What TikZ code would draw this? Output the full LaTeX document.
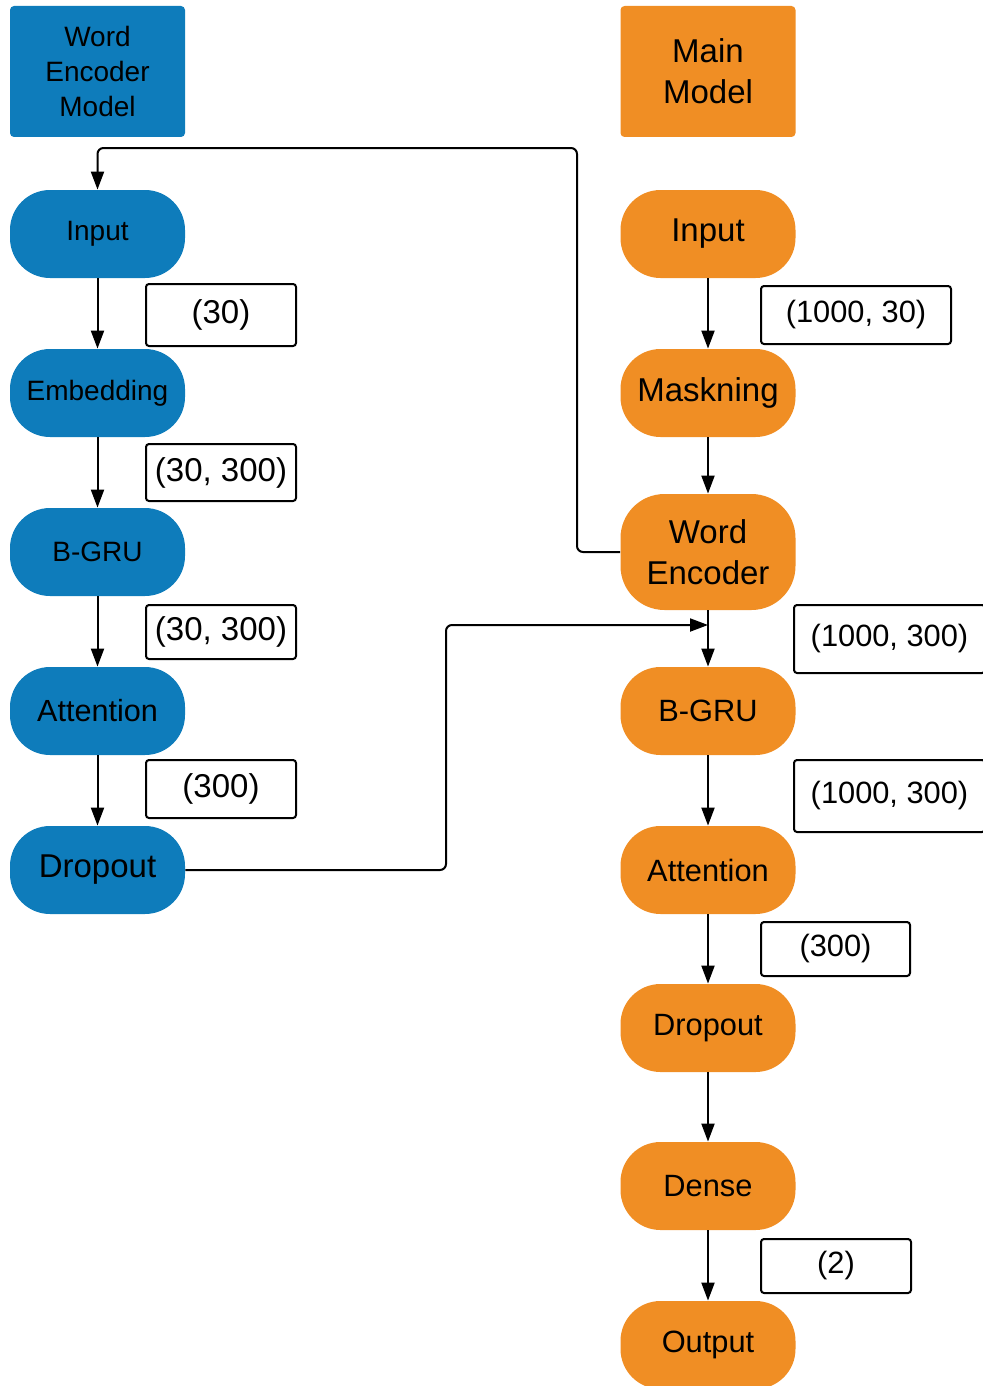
\documentclass[tikz,border=0pt]{standalone}
\usepackage{fontspec}
\setmainfont{Liberation Sans}
\usetikzlibrary{arrows.meta}

\definecolor{encblue}{RGB}{14,124,187}
\definecolor{mainorange}{RGB}{240,142,36}

\tikzset{
  head/.style={rounded corners=2pt, minimum width=87.5pt, minimum height=65.5pt,
    inner sep=0pt, align=center},
  pill/.style={rounded corners=20pt, minimum width=87.5pt, minimum height=44pt,
    inner sep=0pt, align=center},
  enc/.style={fill=encblue},
  mainm/.style={fill=mainorange},
  dimbox/.style={draw, line width=1pt, rounded corners=1.5pt, inner sep=0pt,
    fill=white},
  link/.style={line width=1pt, -{Triangle[length=9pt,width=6.5pt]}},
  fa/.style={font=\fontsize{14}{17.5}\selectfont},
  fb/.style={font=\fontsize{15.4}{20.5}\selectfont},
  fc/.style={font=\fontsize{16.5}{20.5}\selectfont},
}

\begin{document}
\begin{tikzpicture}[x=0.5pt,y=-0.5pt]
\useasboundingbox (0,0) rectangle (982,1386);

% word encoder model
\node[head, enc, fa] (lHead) at (97.5,71.5) {Word\\Encoder\\Model};
\node[pill, enc, fa] (lIn) at (97.5,234) {Input};
\node[pill, enc, fa] (lEmb) at (97.5,393) {Embedding};
\node[pill, enc, fa] (lGru) at (97.5,552) {B-GRU};
\node[pill, enc, font=\fontsize{15.3}{18}\selectfont] (lAtt) at (97.5,711) {Attention};
\node[pill, enc, fc] (lDrop) at (97.5,870) {Dropout};

\node[dimbox, fc, minimum width=75pt, minimum height=31pt] (lDim1) at (221,315) {(30)};
\node[dimbox, fc, minimum width=75pt, minimum height=28.5pt] (lDim2) at (221,472.5) {(30, 300)};
\node[dimbox, fc, minimum width=75pt, minimum height=27pt] (lDim3) at (221,632) {(30, 300)};
\node[dimbox, fc, minimum width=75pt, minimum height=29pt] (lDim4) at (221,789) {(300)};

\draw[link] (lIn) -- (lEmb);
\draw[link] (lEmb) -- (lGru);
\draw[link] (lGru) -- (lAtt);
\draw[link] (lAtt) -- (lDrop);

% main model
\node[head, mainm, fc] (rHead) at (708,71.5) {Main\\Model};
\node[pill, mainm, fc] (rIn) at (708,234) {Input};
\node[pill, mainm, fc] (rMask) at (708,393) {Maskning};
\node[pill, mainm, fc, minimum height=58pt, rounded corners=22pt] (rEnc) at (708,552) {Word\\Encoder};
\node[pill, mainm, fb] (rGru) at (708,711) {B-GRU};
\node[pill, mainm, fb] (rAtt) at (708,870) {Attention};
\node[pill, mainm, fb] (rDrop) at (708,1028) {Dropout};
\node[pill, mainm, fb] (rDense) at (708,1186) {Dense};
\node[pill, mainm, fb] (rOut) at (708,1345) {Output};

\node[dimbox, fb, minimum width=95pt, minimum height=29pt] (rDim1) at (856,315) {(1000, 30)};
\node[dimbox, fb, minimum width=95.5pt, minimum height=34pt] (rDim2) at (889.5,639) {(1000, 300)};
\node[dimbox, fb, minimum width=95.5pt, minimum height=36pt] (rDim3) at (889.5,796) {(1000, 300)};
\node[dimbox, fb, minimum width=74.5pt, minimum height=27pt] (rDim4) at (835.5,949) {(300)};
\node[dimbox, fb, minimum width=75pt, minimum height=27pt] (rDim5) at (836,1266) {(2)};

\draw[link] (rIn) -- (rMask);
\draw[link] (rMask) -- (rEnc);
\draw[link] (rEnc) -- (rGru);
\draw[link] (rGru) -- (rAtt);
\draw[link] (rAtt) -- (rDrop);
\draw[link] (rDrop) -- (rDense);
\draw[link] (rDense) -- (rOut);

% links between the two models
\coordinate (fbTurn) at (577,148);
\coordinate (mergeTurn) at (446,625);
\coordinate (merge) at (708,625);
\draw[link, rounded corners=3pt] (rEnc.west) -| (fbTurn) -| (lIn.north);
\draw[link, rounded corners=3pt] (lDrop.east) -| (mergeTurn) -- (merge);
\end{tikzpicture}
\end{document}
